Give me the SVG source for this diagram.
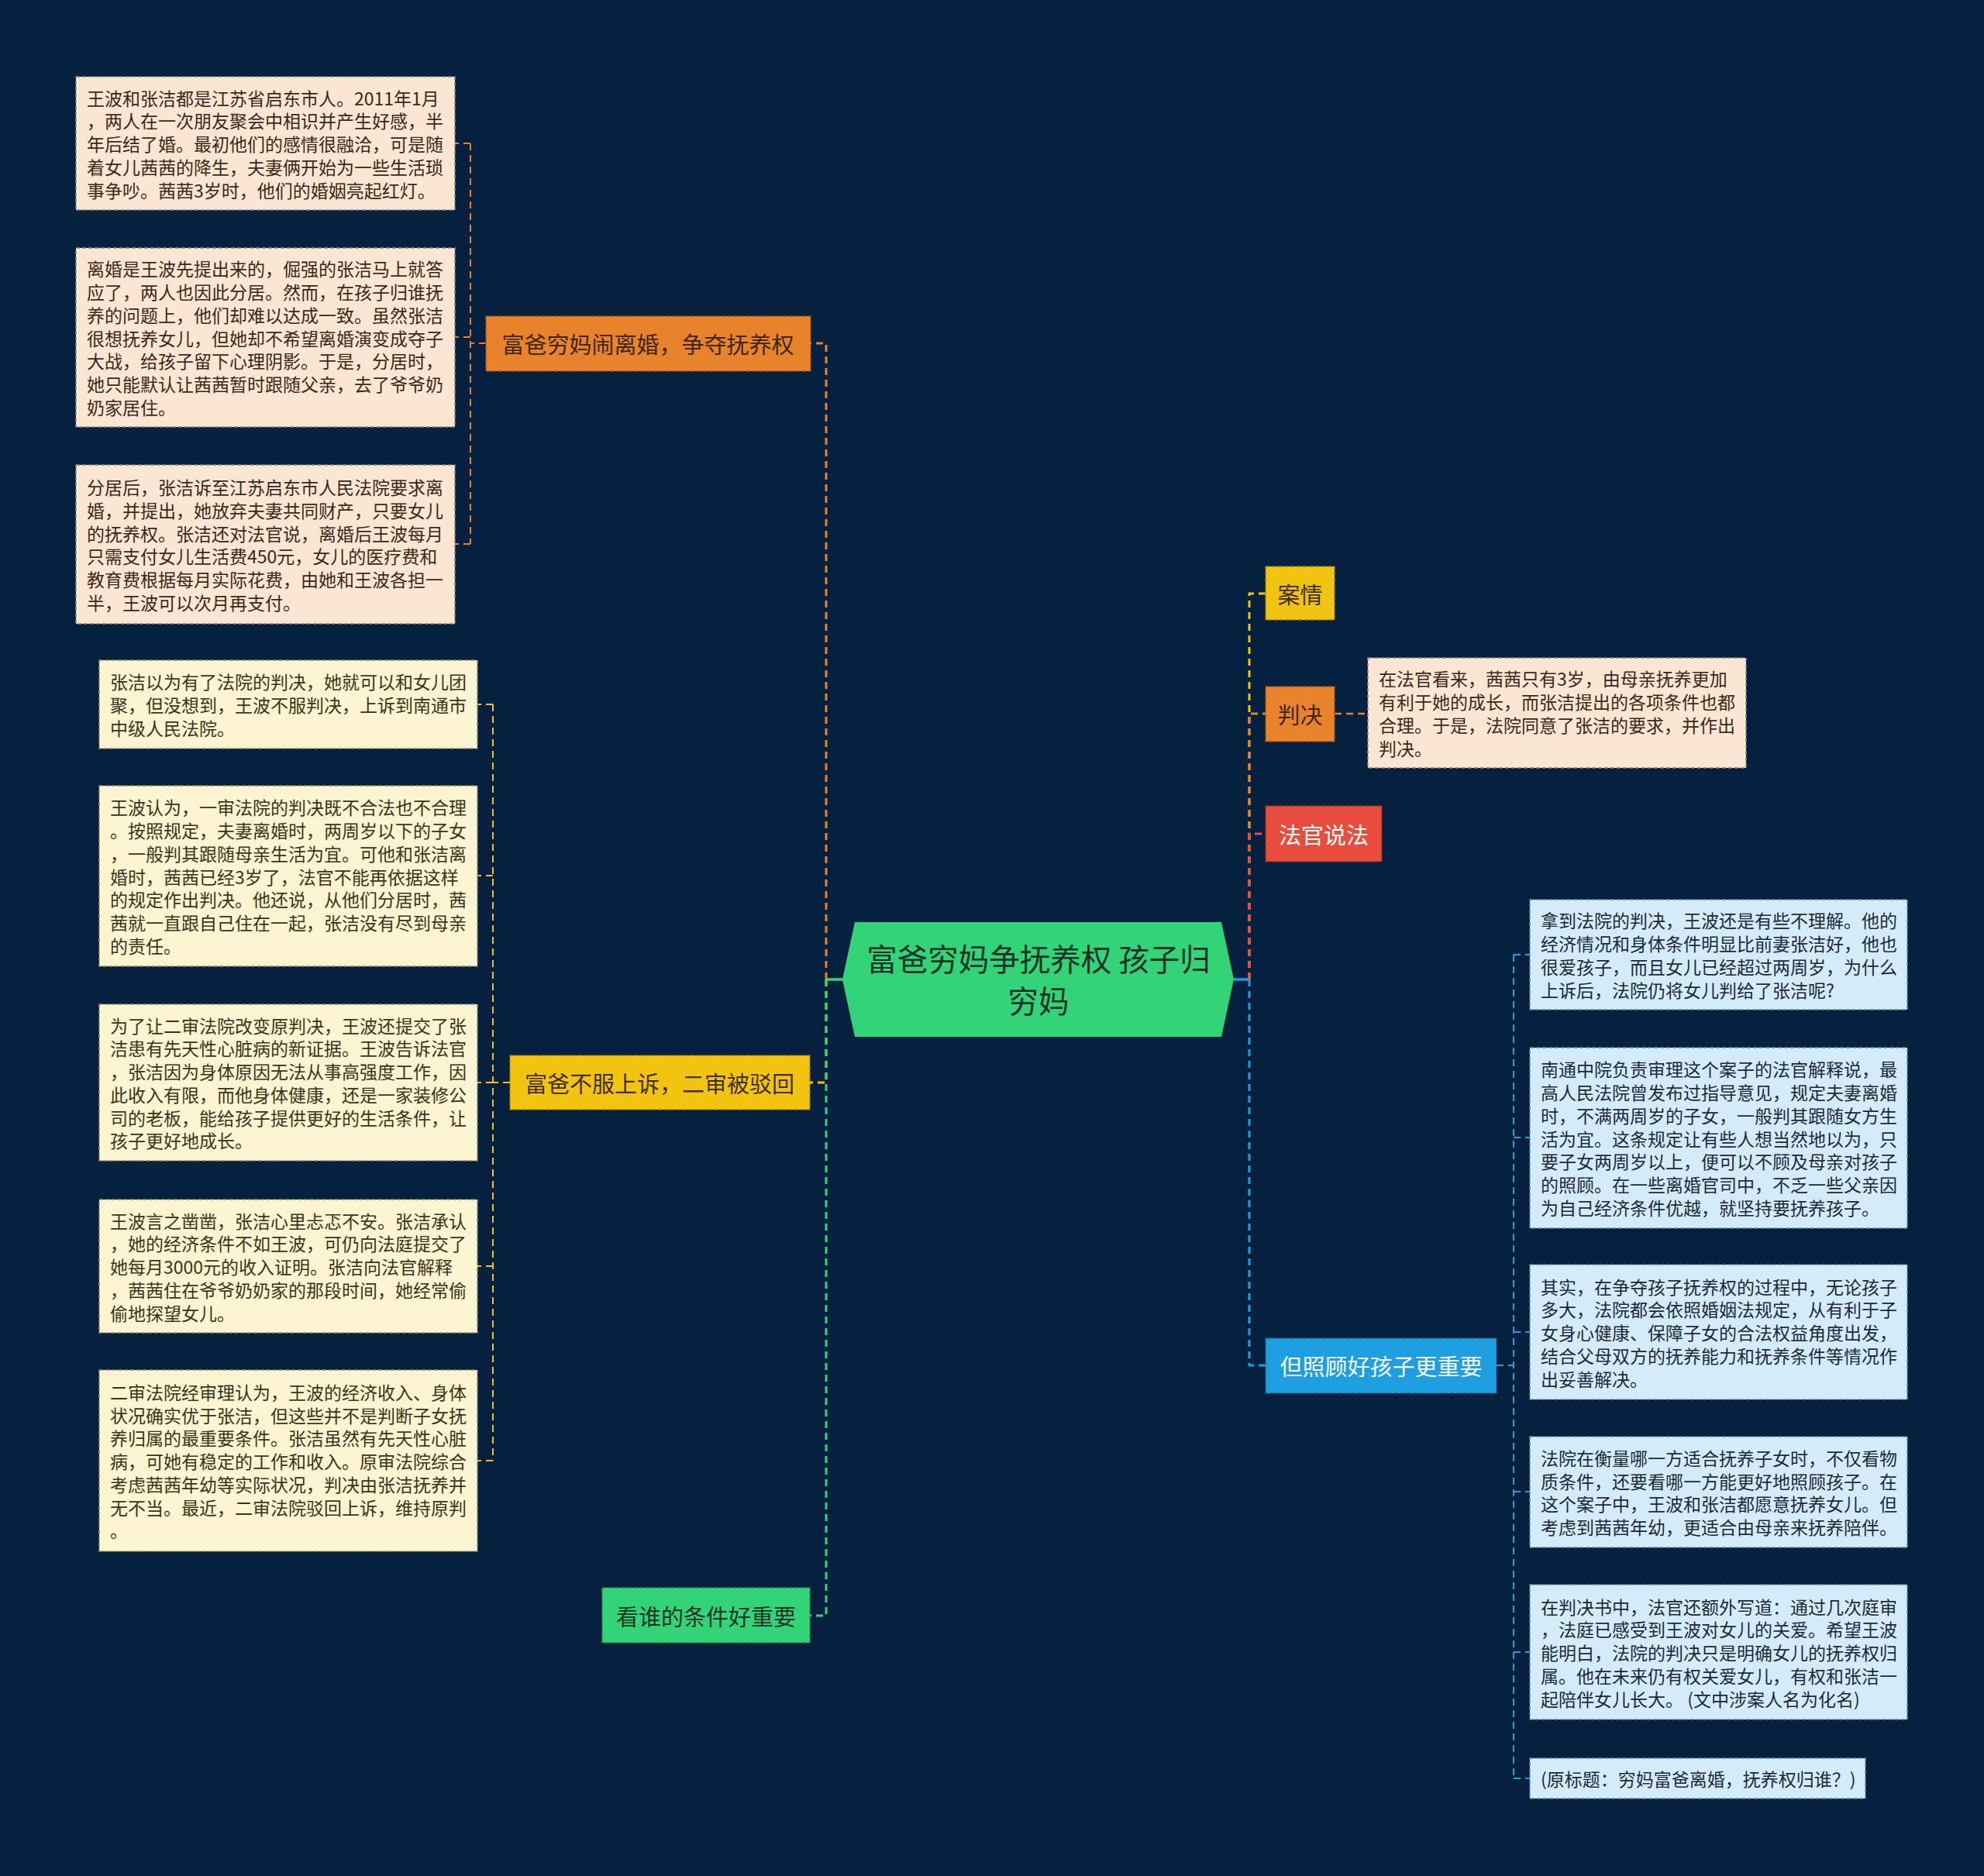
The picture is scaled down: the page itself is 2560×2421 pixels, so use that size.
<svg xmlns="http://www.w3.org/2000/svg" width="2560" height="2421" viewBox="0 0 2560 2421">
<style>
text{font-family:"Noto Sans CJK SC","Noto Sans",sans-serif;}
.leaf text{font-size:23px;dominant-baseline:central;}
.n1{fill:#fbe6d4;stroke:#9a8470;stroke-width:1.5;stroke-dasharray:5 3;}
.n2{fill:#fdf4d2;stroke:#9a8e60;stroke-width:1.5;stroke-dasharray:5 3;}
.n3{fill:#d4ecfa;stroke:#6a8aa0;stroke-width:1.5;stroke-dasharray:5 3;}
.t1{fill:#3a2818;}
.t2{fill:#3a3418;}
.t3{fill:#1c2a38;}
.node text{font-size:29px;dominant-baseline:central;text-anchor:middle;}
.c{fill:none;stroke-width:3;stroke-dasharray:9 6;}
.co{stroke:#e8832b;}
.cy{stroke:#f2c40f;}
.cg{stroke:#33d477;}
.cr{stroke:#e74c3c;}
.cb{stroke:#1e9fe2;}
</style>
<rect width="2560" height="2421" fill="#05213f"/>

<g id="connectors">
  <line x1="1087" y1="1264" x2="1066" y2="1264" stroke="#33d477" stroke-width="3.5"/>
  <line x1="1592" y1="1264" x2="1612" y2="1264" stroke="#1e9fe2" stroke-width="3.5"/>
  <path class="c co" d="M1066,1264 V443 H1045"/>
  <path class="c cy" d="M1066,1264 V1397 H1045"/>
  <path class="c cg" d="M1066,1264 V2085 H1045"/>
  <path class="c cy" d="M1612,1264 V766 H1633"/>
  <path class="c co" d="M1612,1264 V921 H1633"/>
  <path class="c cr" d="M1612,1264 V1076 H1633"/>
  <path class="c cb" d="M1612,1264 V1762 H1633"/>
  <path class="c co" style="stroke-width:2" d="M627,443 H607 M607,185 V702 M607,185 H587 M607,435 H587 M607,702 H587"/>
  <path class="c cy" style="stroke-width:2" d="M658,1397 H636 M636,909 V1885 M636,909 H616 M636,1130 H616 M636,1397 H616 M636,1634 H616 M636,1885 H616"/>
  <path class="c co" style="stroke-width:2.5" d="M1722,921 H1765"/>
  <path class="c cb" style="stroke-width:2" d="M1931,1762 H1953 M1953,1232 V2295 M1953,1232 H1974 M1953,1468 H1974 M1953,1719 H1974 M1953,1925 H1974 M1953,2132 H1974 M1953,2295 H1974"/>
</g>

<g id="root" class="node">
  <polygon points="1087,1264 1103,1190 1576,1190 1592,1264 1576,1338 1103,1338" fill="#33d477"/>
  <text x="1340" y="1235" style="font-size:39.5px" fill="#1b3324">富爸穷妈争抚养权 孩子归</text>
  <text x="1340" y="1289" style="font-size:39.5px" fill="#1b3324">穷妈</text>
</g>

<g id="node-g1" class="node">
  <rect x="627" y="408" width="419" height="71" fill="#e8832b" stroke="#9a5418" stroke-width="1.5" stroke-dasharray="5 3"/>
  <text x="836" y="443" fill="#3d2612">富爸穷妈闹离婚，争夺抚养权</text>
</g>
<g id="node-g2" class="node">
  <rect x="658" y="1362" width="387" height="70" fill="#f2c40f" stroke="#9a7e08" stroke-width="1.5" stroke-dasharray="5 3"/>
  <text x="851" y="1397" fill="#3d3010">富爸不服上诉，二审被驳回</text>
</g>
<g id="node-g3" class="node">
  <rect x="777" y="2049" width="268" height="71" fill="#33d477" stroke="#1e8a4a" stroke-width="1.5" stroke-dasharray="5 3"/>
  <text x="911" y="2085" fill="#1b3324">看谁的条件好重要</text>
</g>
<g id="node-r1" class="node">
  <rect x="1633" y="731" width="89" height="69" fill="#f2c40f" stroke="#9a7e08" stroke-width="1.5" stroke-dasharray="5 3"/>
  <text x="1677.5" y="766" fill="#3d3010">案情</text>
</g>
<g id="node-r2" class="node">
  <rect x="1633" y="886" width="89" height="71" fill="#e8832b" stroke="#9a5418" stroke-width="1.5" stroke-dasharray="5 3"/>
  <text x="1677.5" y="921" fill="#3d2612">判决</text>
</g>
<g id="node-r3" class="node">
  <rect x="1633" y="1040" width="150" height="72" fill="#e74c3c" stroke="#9a2a20" stroke-width="1.5" stroke-dasharray="5 3"/>
  <text x="1708" y="1076" fill="#ffffff">法官说法</text>
</g>
<g id="node-r4" class="node">
  <rect x="1633" y="1727" width="298" height="71" fill="#1e9fe2" stroke="#10608a" stroke-width="1.5" stroke-dasharray="5 3"/>
  <text x="1782" y="1762" fill="#ffffff">但照顾好孩子更重要</text>
</g>

<g id="leaf-g1-1" class="leaf">
  <rect class="n1" x="98" y="99" width="489" height="172"/>
  <text class="t1" x="112" y="125.5">王波和张洁都是江苏省启东市人。2011年1月</text>
  <text class="t1" x="112" y="155.3">，两人在一次朋友聚会中相识并产生好感，半</text>
  <text class="t1" x="112" y="185">年后结了婚。最初他们的感情很融洽，可是随</text>
  <text class="t1" x="112" y="214.8">着女儿茜茜的降生，夫妻俩开始为一些生活琐</text>
  <text class="t1" x="112" y="244.5">事争吵。茜茜3岁时，他们的婚姻亮起红灯。</text>
</g>
<g id="leaf-g1-2" class="leaf">
  <rect class="n1" x="98" y="320" width="489" height="231"/>
  <text class="t1" x="112" y="346.3">离婚是王波先提出来的，倔强的张洁马上就答</text>
  <text class="t1" x="112" y="376">应了，两人也因此分居。然而，在孩子归谁抚</text>
  <text class="t1" x="112" y="405.8">养的问题上，他们却难以达成一致。虽然张洁</text>
  <text class="t1" x="112" y="435.5">很想抚养女儿，但她却不希望离婚演变成夺子</text>
  <text class="t1" x="112" y="465.3">大战，给孩子留下心理阴影。于是，分居时，</text>
  <text class="t1" x="112" y="495">她只能默认让茜茜暂时跟随父亲，去了爷爷奶</text>
  <text class="t1" x="112" y="524.8">奶家居住。</text>
</g>
<g id="leaf-g1-3" class="leaf">
  <rect class="n1" x="98" y="600" width="489" height="205"/>
  <text class="t1" x="112" y="628.1">分居后，张洁诉至江苏启东市人民法院要求离</text>
  <text class="t1" x="112" y="657.9">婚，并提出，她放弃夫妻共同财产，只要女儿</text>
  <text class="t1" x="112" y="687.6">的抚养权。张洁还对法官说，离婚后王波每月</text>
  <text class="t1" x="112" y="717.4">只需支付女儿生活费450元，女儿的医疗费和</text>
  <text class="t1" x="112" y="747.1">教育费根据每月实际花费，由她和王波各担一</text>
  <text class="t1" x="112" y="776.9">半，王波可以次月再支付。</text>
</g>

<g id="leaf-g2-1" class="leaf">
  <rect class="n2" x="128" y="852" width="488" height="114"/>
  <text class="t2" x="142" y="879.3">张洁以为有了法院的判决，她就可以和女儿团</text>
  <text class="t2" x="142" y="909">聚，但没想到，王波不服判决，上诉到南通市</text>
  <text class="t2" x="142" y="938.8">中级人民法院。</text>
</g>
<g id="leaf-g2-2" class="leaf">
  <rect class="n2" x="128" y="1014" width="488" height="233"/>
  <text class="t2" x="142" y="1041.3">王波认为，一审法院的判决既不合法也不合理</text>
  <text class="t2" x="142" y="1071">。按照规定，夫妻离婚时，两周岁以下的子女</text>
  <text class="t2" x="142" y="1100.8">，一般判其跟随母亲生活为宜。可他和张洁离</text>
  <text class="t2" x="142" y="1130.5">婚时，茜茜已经3岁了，法官不能再依据这样</text>
  <text class="t2" x="142" y="1160.3">的规定作出判决。他还说，从他们分居时，茜</text>
  <text class="t2" x="142" y="1190">茜就一直跟自己住在一起，张洁没有尽到母亲</text>
  <text class="t2" x="142" y="1219.8">的责任。</text>
</g>
<g id="leaf-g2-3" class="leaf">
  <rect class="n2" x="128" y="1296" width="488" height="202"/>
  <text class="t2" x="142" y="1322.6">为了让二审法院改变原判决，王波还提交了张</text>
  <text class="t2" x="142" y="1352.4">洁患有先天性心脏病的新证据。王波告诉法官</text>
  <text class="t2" x="142" y="1382.1">，张洁因为身体原因无法从事高强度工作，因</text>
  <text class="t2" x="142" y="1411.9">此收入有限，而他身体健康，还是一家装修公</text>
  <text class="t2" x="142" y="1441.6">司的老板，能给孩子提供更好的生活条件，让</text>
  <text class="t2" x="142" y="1471.4">孩子更好地成长。</text>
</g>
<g id="leaf-g2-4" class="leaf">
  <rect class="n2" x="128" y="1548" width="488" height="172"/>
  <text class="t2" x="142" y="1574.5">王波言之凿凿，张洁心里忐忑不安。张洁承认</text>
  <text class="t2" x="142" y="1604.3">，她的经济条件不如王波，可仍向法庭提交了</text>
  <text class="t2" x="142" y="1634">她每月3000元的收入证明。张洁向法官解释</text>
  <text class="t2" x="142" y="1663.8">，茜茜住在爷爷奶奶家的那段时间，她经常偷</text>
  <text class="t2" x="142" y="1693.5">偷地探望女儿。</text>
</g>
<g id="leaf-g2-5" class="leaf">
  <rect class="n2" x="128" y="1768" width="488" height="234"/>
  <text class="t2" x="142" y="1795.8">二审法院经审理认为，王波的经济收入、身体</text>
  <text class="t2" x="142" y="1825.5">状况确实优于张洁，但这些并不是判断子女抚</text>
  <text class="t2" x="142" y="1855.3">养归属的最重要条件。张洁虽然有先天性心脏</text>
  <text class="t2" x="142" y="1885">病，可她有稳定的工作和收入。原审法院综合</text>
  <text class="t2" x="142" y="1914.8">考虑茜茜年幼等实际状况，判决由张洁抚养并</text>
  <text class="t2" x="142" y="1944.5">无不当。最近，二审法院驳回上诉，维持原判</text>
  <text class="t2" x="142" y="1974.3">。</text>
</g>

<g id="leaf-r2-1" class="leaf">
  <rect class="n1" x="1765" y="849" width="488" height="142"/>
  <text class="t1" x="1779" y="875.4">在法官看来，茜茜只有3岁，由母亲抚养更加</text>
  <text class="t1" x="1779" y="905.1">有利于她的成长，而张洁提出的各项条件也都</text>
  <text class="t1" x="1779" y="934.9">合理。于是，法院同意了张洁的要求，并作出</text>
  <text class="t1" x="1779" y="964.6">判决。</text>
</g>

<g id="leaf-r4-1" class="leaf">
  <rect class="n3" x="1974" y="1161" width="487" height="142"/>
  <text class="t3" x="1988" y="1187.4">拿到法院的判决，王波还是有些不理解。他的</text>
  <text class="t3" x="1988" y="1217.1">经济情况和身体条件明显比前妻张洁好，他也</text>
  <text class="t3" x="1988" y="1246.9">很爱孩子，而且女儿已经超过两周岁，为什么</text>
  <text class="t3" x="1988" y="1276.6">上诉后，法院仍将女儿判给了张洁呢?</text>
</g>
<g id="leaf-r4-2" class="leaf">
  <rect class="n3" x="1974" y="1352" width="487" height="233"/>
  <text class="t3" x="1988" y="1379.3">南通中院负责审理这个案子的法官解释说，最</text>
  <text class="t3" x="1988" y="1409">高人民法院曾发布过指导意见，规定夫妻离婚</text>
  <text class="t3" x="1988" y="1438.8">时，不满两周岁的子女，一般判其跟随女方生</text>
  <text class="t3" x="1988" y="1468.5">活为宜。这条规定让有些人想当然地以为，只</text>
  <text class="t3" x="1988" y="1498.3">要子女两周岁以上，便可以不顾及母亲对孩子</text>
  <text class="t3" x="1988" y="1528">的照顾。在一些离婚官司中，不乏一些父亲因</text>
  <text class="t3" x="1988" y="1557.8">为自己经济条件优越，就坚持要抚养孩子。</text>
</g>
<g id="leaf-r4-3" class="leaf">
  <rect class="n3" x="1974" y="1632" width="487" height="174"/>
  <text class="t3" x="1988" y="1659.5">其实，在争夺孩子抚养权的过程中，无论孩子</text>
  <text class="t3" x="1988" y="1689.3">多大，法院都会依照婚姻法规定，从有利于子</text>
  <text class="t3" x="1988" y="1719">女身心健康、保障子女的合法权益角度出发，</text>
  <text class="t3" x="1988" y="1748.8">结合父母双方的抚养能力和抚养条件等情况作</text>
  <text class="t3" x="1988" y="1778.5">出妥善解决。</text>
</g>
<g id="leaf-r4-4" class="leaf">
  <rect class="n3" x="1974" y="1854" width="487" height="143"/>
  <text class="t3" x="1988" y="1880.9">法院在衡量哪一方适合抚养子女时，不仅看物</text>
  <text class="t3" x="1988" y="1910.6">质条件，还要看哪一方能更好地照顾孩子。在</text>
  <text class="t3" x="1988" y="1940.4">这个案子中，王波和张洁都愿意抚养女儿。但</text>
  <text class="t3" x="1988" y="1970.1">考虑到茜茜年幼，更适合由母亲来抚养陪伴。</text>
</g>
<g id="leaf-r4-5" class="leaf">
  <rect class="n3" x="1974" y="2045" width="487" height="174"/>
  <text class="t3" x="1988" y="2072.5">在判决书中，法官还额外写道：通过几次庭审</text>
  <text class="t3" x="1988" y="2102.3">，法庭已感受到王波对女儿的关爱。希望王波</text>
  <text class="t3" x="1988" y="2132">能明白，法院的判决只是明确女儿的抚养权归</text>
  <text class="t3" x="1988" y="2161.8">属。他在未来仍有权关爱女儿，有权和张洁一</text>
  <text class="t3" x="1988" y="2191.5">起陪伴女儿长大。 (文中涉案人名为化名)</text>
</g>
<g id="leaf-r4-6" class="leaf">
  <rect class="n3" x="1974" y="2269" width="433" height="52"/>
  <text class="t3" x="1988" y="2295">(原标题：穷妈富爸离婚，抚养权归谁？)</text>
</g>
</svg>
